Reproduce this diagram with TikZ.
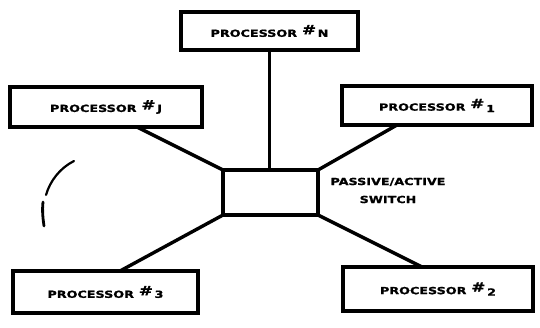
\documentclass[tikz,border=0pt]{standalone}
\usepackage{fontspec}
\newfontfamily\lblfont{DejaVu Sans}[FakeStretch=1.3, BoldFeatures={FakeBold=1.2}]
\usetikzlibrary{calc}
\newcommand{\hashmark}{\raisebox{2.5pt}{\fontsize{13}{13}\selectfont\#}}
\begin{document}
\begin{tikzpicture}[x=1pt,y=-1pt,
  unit/.style={draw, line width=3.2pt, outer sep=0pt, inner sep=0pt,
    font=\lblfont\bfseries\fontsize{9.8}{11}\selectfont},
  hub/.style={draw, line width=3.6pt, outer sep=0pt, inner sep=0pt},
  caption/.style={font=\lblfont\bfseries\fontsize{9.8}{11}\selectfont, align=center, inner sep=0pt},
  wire/.style={line width=3.4pt},
  stroke/.style={line width=2.2pt, line cap=round}]
\useasboundingbox[fill=white] (0,0) rectangle (540,328);

% processors
\node[unit, minimum width=177pt, minimum height=38pt] (pN) at (269.5,31)
  {PROCESSOR\enspace\hashmark\,N};
\node[unit, minimum width=192pt, minimum height=40pt] (pJ) at (106,107)
  {PROCESSOR\enspace\hashmark\,J};
\node[unit, minimum width=190pt, minimum height=39pt] (p1) at (437,105.5)
  {PROCESSOR\enspace\hashmark\,\raisebox{-1.5pt}{1}};
\node[unit, minimum width=185pt, minimum height=42pt] (p3) at (105.5,292)
  {PROCESSOR\enspace\hashmark\,3};
\node[unit, minimum width=190pt, minimum height=44pt] (p2) at (438,289)
  {PROCESSOR\enspace\hashmark\,\raisebox{-1.5pt}{2}};

% central switch
\node[hub, minimum width=95pt, minimum height=45pt] (sw) at (270.5,192.5) {};
\node[caption] (swlabel) at (388,190.5) {PASSIVE/ACTIVE\\[7pt]SWITCH};

% links
\draw[wire] (pN.south) -- (pN.south |- sw.north);
\draw[wire] ([xshift=31pt]pJ.south) -- (sw.north west);
\draw[wire] ([xshift=-40pt]p1.south) -- (sw.north east);
\draw[wire] (sw.south west) -- ([xshift=14.5pt]p3.north);
\draw[wire] (sw.south east) -- ([xshift=-16pt]p2.north);

% pencil stroke at left, broken in two
\draw[stroke] (74,161) .. controls (60,168) and (50,181) .. (46,195);
\draw[stroke, line width=2.8pt] (43,202) .. controls (42,211) and (43,219) .. (44,226);
\end{tikzpicture}
\end{document}
